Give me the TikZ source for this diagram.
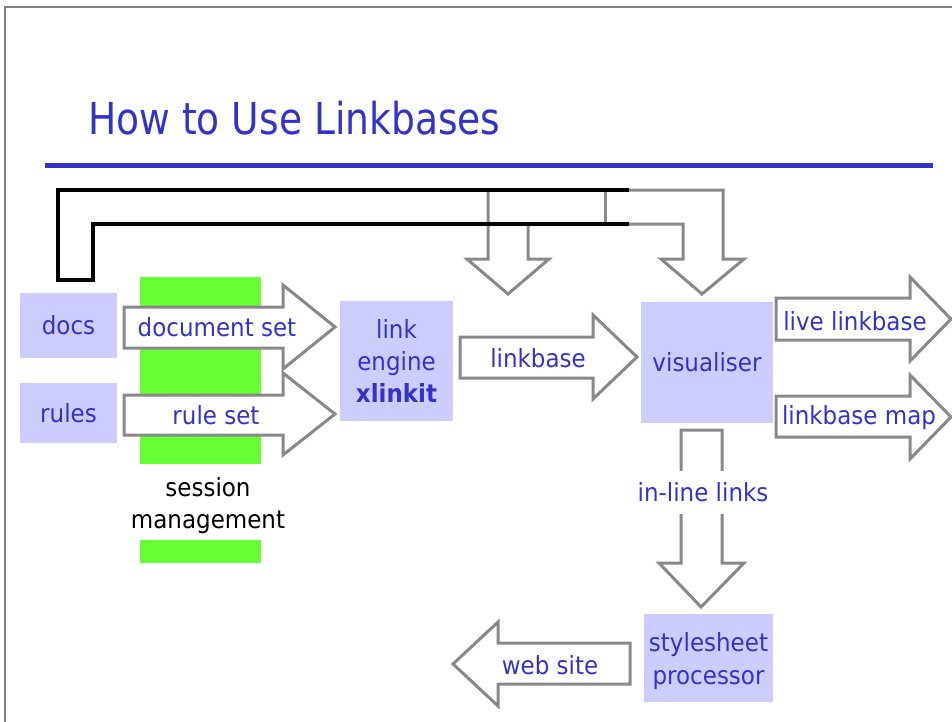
\documentclass[tikz,border=0pt]{standalone}
\usepackage{fontspec}
\setmainfont{DejaVu Sans}[FakeStretch=0.92]
\newfontfamily\titlefont[FakeStretch=0.855]{DejaVu Sans}
\definecolor{ink}{HTML}{3333CC}
\definecolor{boxfill}{HTML}{CCCCFF}
\definecolor{session}{HTML}{66FF33}
\definecolor{pipe}{HTML}{888888}
\definecolor{framegray}{HTML}{808080}
\tikzset{
  txt/.style={font=\fontsize{25}{32}\selectfont, inner sep=0pt},
  lbl/.style={txt, text=ink, anchor=base},
  unit/.style={txt, fill=boxfill, text=ink, align=center},
  blockarrow/.style={draw=pipe, line width=3pt, fill=white, line join=miter},
  pipeline/.style={draw=pipe, line width=3pt, line join=miter},
  bracket/.style={draw=black, line width=4pt, line join=miter},
}
\begin{document}
\begin{tikzpicture}[x=1pt,y=-1pt]
\useasboundingbox (0,0) rectangle (952,722);
\fill[white] (0,0) rectangle (952,722);

% slide frame
\draw[framegray, line width=2pt] (5,722) -- (5,7) -- (952,7);

% title and rule
\node[anchor=base west, inner sep=0pt, text=ink, font=\titlefont\fontsize{44}{50}\selectfont] (title) at (88,135) {How to Use Linkbases};
\draw[ink, line width=5pt] (45,166) -- (933,166);

% session management band
\fill[session] (140,277) rectangle (261,464);
\fill[session] (140,540) rectangle (261,563);
\node[txt, align=center, anchor=base] (sess) at (208,528) {session\\management};

% feedback pipes from the bracket into the engine and visualiser
\draw[pipeline, fill=white] (488,190) -- (488,259) -- (467,259) -- (508,294) -- (549,259) -- (528,259) -- (528,224);
\draw[pipeline] (605,190) -- (605,224);
\draw[pipeline, fill=white] (629,190) -- (723,190) -- (723,259) -- (744,259) -- (702,294) -- (661,259) -- (683,259) -- (683,224) -- (629,224);
\draw[bracket] (629,190) -- (58,190) -- (58,280) -- (93,280) -- (93,224) -- (629,224);

% component boxes
\node[unit, minimum width=97pt, minimum height=65pt] (docs) at (68.5,325.5) {docs};
\node[unit, minimum width=97pt, minimum height=60pt] (rules) at (68.5,413) {rules};
\node[unit, minimum width=113pt, minimum height=120pt] (engine) at (396.5,361) {link\\engine\\\textbf{xlinkit}};
\node[unit, minimum width=132pt, minimum height=121pt] (vis) at (707,362.5) {visualiser};
\node[unit, minimum width=129pt, minimum height=88pt, font=\fontsize{25}{33}\selectfont] (style) at (708.5,658) {\rule{0pt}{26pt}stylesheet\\processor};

% block arrows
\draw[blockarrow] (124,307) -- (283,307) -- (283,285) -- (335,327) -- (283,369) -- (283,348) -- (124,348) -- cycle;
\draw[blockarrow] (124,395) -- (283,395) -- (283,373) -- (335,414) -- (283,455) -- (283,435) -- (124,435) -- cycle;
\draw[blockarrow] (460,337) -- (593,337) -- (593,315) -- (637,357) -- (593,399) -- (593,378) -- (460,378) -- cycle;
\draw[blockarrow] (776,298) -- (910,298) -- (910,277) -- (951,319) -- (910,361) -- (910,340) -- (776,340) -- cycle;
\draw[blockarrow] (776,396) -- (910,396) -- (910,375) -- (951,417) -- (910,459) -- (910,437) -- (776,437) -- cycle;
\draw[blockarrow] (630,643) -- (498,643) -- (498,622) -- (453,664) -- (498,706) -- (498,684) -- (630,684) -- cycle;
\draw[blockarrow] (681,430) -- (722,430) -- (722,563) -- (744,563) -- (701,607) -- (659,563) -- (681,563) -- cycle;

% arrow labels
\node[lbl] (ldoc) at (217,336) {document set};
\node[lbl] (lrule) at (216,424) {rule set};
\node[lbl] (llb) at (538,367) {linkbase};
\node[lbl] (llive) at (855,330) {live linkbase};
\node[lbl] (lmap) at (859,424) {linkbase map};
\node[lbl] (lweb) at (550,674) {web site};
\node[txt, text=ink, fill=white, minimum height=43pt, inner xsep=2pt] (linl) at (703,492) {in-line links};
\end{tikzpicture}
\end{document}
